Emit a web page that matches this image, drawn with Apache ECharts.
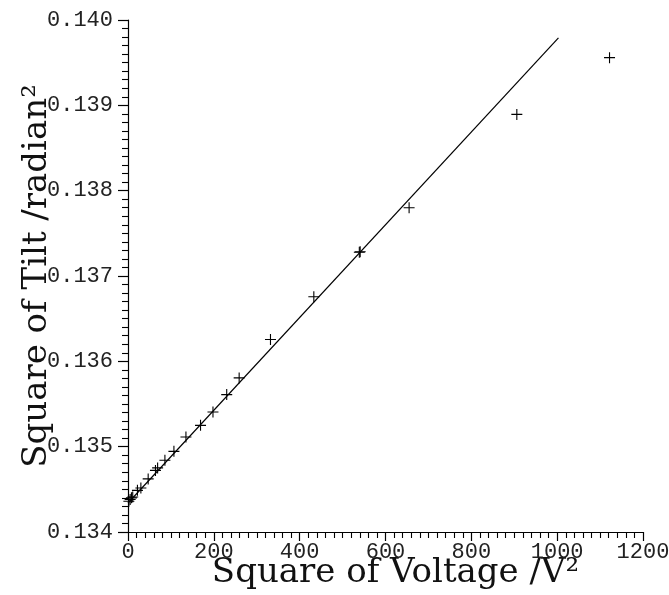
<!DOCTYPE html>
<html>
<head>
<meta charset="utf-8">
<script src="https://cdn.jsdelivr.net/npm/echarts@6/dist/echarts.min.js"></script>
<style>
html,body{margin:0;padding:0;background:#fff;}
#chart{width:669px;height:595px;}
</style>
</head>
<body>
<div id="chart"></div>
<script>
// Measured points: square of voltage (V^2) and square of tilt (radian^2)
var voltageSq = [2, 5, 8, 11, 22, 30, 47, 64, 69, 86, 107, 135, 169, 198, 230, 259, 332, 433, 539, 541, 655, 906, 1122];
var tiltSq = [0.13436, 0.13438, 0.13440, 0.13441, 0.134488, 0.134516, 0.134622, 0.134722, 0.134751, 0.13484, 0.134945, 0.135114, 0.13525, 0.135407, 0.13561, 0.135806, 0.136255, 0.136756, 0.137279, 0.137285, 0.1378, 0.138894, 0.139559];
// Fitted straight line endpoints
var fitX = [0, 1003];
var fitY = [0.13434, 0.13979];
var xTicks = [0, 200, 400, 600, 800, 1000, 1200];
var yTicks = [0.134, 0.135, 0.136, 0.137, 0.138, 0.139, 0.140];

var pts = voltageSq.map(function (v, i) { return [v, tiltSq[i]]; });
var fit = fitX.map(function (v, i) { return [v, fitY[i]]; });

var chart = echarts.init(document.getElementById('chart'));
var tickFont = { fontFamily: 'Liberation Mono', fontSize: 22, color: '#222' };
chart.setOption({
  animation: false,
  backgroundColor: '#fff',
  grid: { left: 128, top: 20, right: 26, bottom: 63, containLabel: false, outerBoundsMode: 'none' },
  xAxis: {
    type: 'value',
    min: xTicks[0], max: xTicks[xTicks.length - 1], interval: 200,
    splitLine: { show: false },
    axisLine: { show: true, lineStyle: { color: '#000', width: 1.2 } },
    axisTick: { show: true, inside: false, length: 9, lineStyle: { color: '#000', width: 1.2 } },
    minorTick: { show: true, splitNumber: 10, length: 6, lineStyle: { color: '#000', width: 1.1 } },
    axisLabel: Object.assign({ margin: 9, formatter: function (v) { return String(v); } }, tickFont),
    name: 'Square of Voltage /V²',
    nameLocation: 'middle',
    nameGap: 24,
    nameMoveOverlap: false,
    nameTextStyle: { fontFamily: 'DejaVu Serif', fontSize: 34, color: '#111', padding: [0, 0, 0, 20] }
  },
  yAxis: {
    type: 'value',
    min: yTicks[0], max: yTicks[yTicks.length - 1], interval: 0.001,
    splitLine: { show: false },
    axisLine: { show: true, lineStyle: { color: '#000', width: 1.2 } },
    axisTick: { show: true, inside: false, length: 10, lineStyle: { color: '#000', width: 1.2 } },
    minorTick: { show: true, splitNumber: 10, length: 6, lineStyle: { color: '#000', width: 1.1 } },
    axisLabel: Object.assign({ margin: 15, formatter: function (v) { return v.toFixed(3); } }, tickFont),
    name: 'Square of Tilt /radian²',
    nameLocation: 'middle',
    nameGap: 74,
    nameMoveOverlap: false,
    nameRotate: 90,
    nameTextStyle: { fontFamily: 'DejaVu Serif', fontSize: 34, color: '#111' }
  },
  series: [
    {
      type: 'line',
      data: fit,
      symbol: 'none',
      lineStyle: { color: '#000', width: 1.2 },
      z: 2
    },
    {
      type: 'scatter',
      data: pts,
      symbol: 'path://M9,0H11V9H20V11H11V20H9V11H0V9H9Z',
      symbolSize: 11,
      itemStyle: { color: '#000', opacity: 1 },
      z: 3
    }
  ]
});
</script>
</body>
</html>
